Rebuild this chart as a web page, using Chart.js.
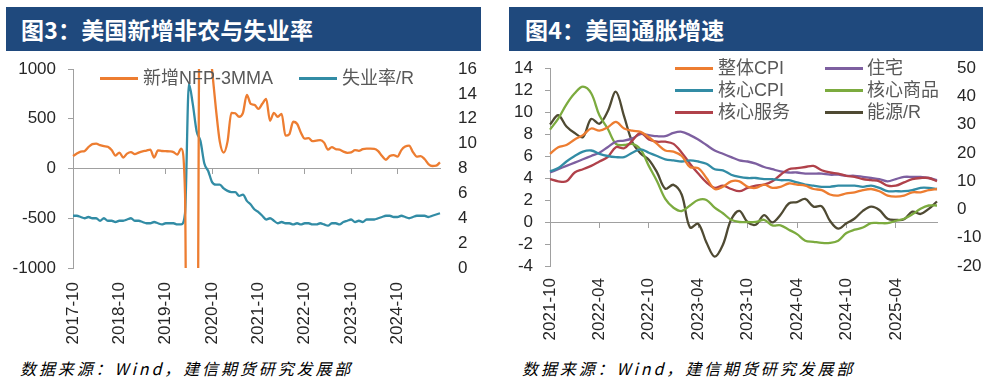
<!DOCTYPE html>
<html>
<head>
<meta charset="utf-8">
<script src="https://cdn.jsdelivr.net/npm/chart.js@4/dist/chart.umd.min.js"></script>
<style>
  html,body{margin:0;padding:0;background:#fff;}
  body{width:991px;height:384px;position:relative;overflow:hidden;font-family:'Liberation Sans','Noto Sans CJK SC',sans-serif;}
  .bar{position:absolute;top:7px;height:44px;background:#1f497d;color:#fff;font-family:'Noto Sans CJK SC',sans-serif;font-weight:bold;font-size:23px;line-height:44px;letter-spacing:0.2px;box-sizing:border-box;}
  .src{position:absolute;top:356px;font-family:'Noto Sans CJK SC',sans-serif;font-style:italic;font-size:16px;letter-spacing:2.9px;color:#000;}
  .cv{position:absolute;}
  .lg{position:absolute;font-family:'Liberation Sans','Noto Sans CJK SC',sans-serif;font-size:18px;color:#595959;line-height:20px;white-space:nowrap;}
  .ln{position:absolute;height:2.5px;}
</style>
</head>
<body>
<div class="bar" style="left:6px;width:475px;padding-left:15px;">图3：美国新增非农与失业率</div>
<div class="bar" style="left:509px;width:474px;padding-left:16px;">图4：美国通胀增速</div>

<div class="cv" style="left:0;top:55px;width:495px;height:300px;"><canvas id="cL" width="495" height="300"></canvas></div>
<div class="cv" style="left:500px;top:55px;width:491px;height:300px;"><canvas id="cR" width="491" height="300"></canvas></div>

<div id="legends"></div>

<div class="src" style="left:20px;">数据来源：Wind，建信期货研究发展部</div>
<div class="src" style="left:522px;">数据来源：Wind，建信期货研究发展部</div>

<script>
// ---------- categories ----------
function monthRange(y, m, n){ const out=[]; for(let k=0;k<n;k++){ out.push(y+'-'+String(m).padStart(2,'0')); m++; if(m>12){m=1;y++;} } return out; }
const monthsL = monthRange(2017,10,96);   // 2017-10 .. 2025-09
const monthsR = monthRange(2021,10,48);   // 2021-10 .. 2025-09
const tickLabelsL = ['2017-10','2018-10','2019-10','2020-10','2021-10','2022-10','2023-10','2024-10'];
const tickLabelsR = ['2021-10','2022-04','2022-10','2023-04','2023-10','2024-04','2024-10','2025-04'];

// ---------- left chart series ----------
const nfp3mma = [125,150,170,175,215,245,250,235,225,218,185,130,
  160,110,150,165,145,160,172,180,190,110,182,176,
  174,172,165,140,200,-250,-7200,-6350,-4360,3050,2630,1340,
  990,600,270,160,270,560,555,520,560,740,650,640,
  600,650,700,480,560,520,550,330,345,470,450,360,
  300,305,275,280,285,260,190,215,195,190,170,158,
  162,185,178,195,200,200,198,175,125,88,125,135,
  120,185,220,230,165,120,125,95,45,25,28,62];
const unemployment = [4.2,4.2,4.1,
  4.0,4.1,4.0,4.0,3.8,4.0,3.8,3.8,3.7,3.8,3.8,3.9,
  4.0,3.8,3.8,3.7,3.6,3.6,3.7,3.6,3.5,3.6,3.6,3.6,
  3.5,3.5,4.4,14.8,13.2,11.0,10.2,8.4,7.8,6.9,6.7,6.7,
  6.4,6.2,6.1,6.1,5.8,5.9,5.4,5.1,4.7,4.5,4.2,3.9,
  4.0,3.8,3.6,3.7,3.6,3.6,3.5,3.6,3.5,3.6,3.6,3.5,
  3.5,3.6,3.5,3.4,3.6,3.6,3.5,3.7,3.8,3.9,3.7,3.8,
  3.7,3.9,3.9,3.9,4.0,4.1,4.2,4.2,4.1,4.1,4.2,4.1,
  4.0,4.1,4.2,4.2,4.2,4.1,4.2,4.3,4.4];

// ---------- right chart series ----------
const cpi = [6.2,6.8,7.0, 7.5,7.9,8.5,8.3,8.6,9.1,8.5,8.3,8.2,7.7,7.1,6.5,
  6.4,6.0,5.0,4.9,4.0,3.0,3.2,3.7,3.7,3.2,3.1,3.4,
  3.1,3.2,3.5,3.4,3.3,3.0,2.9,2.5,2.4,2.6,2.7,2.9,
  3.0,2.8,2.4,2.3,2.4,2.7,2.7,2.9,3.0];
const coreCpi = [4.6,4.9,5.5, 6.0,6.4,6.5,6.2,6.0,5.9,5.9,6.3,6.6,6.3,6.0,5.7,
  5.6,5.5,5.6,5.5,5.3,4.8,4.7,4.3,4.1,4.0,4.0,3.9,
  3.9,3.8,3.8,3.6,3.4,3.3,3.2,3.2,3.3,3.3,3.3,3.2,
  3.3,3.1,2.8,2.8,2.8,2.9,3.1,3.1,3.0];
const coreServices = [3.9,3.7,3.7, 4.5,4.8,5.1,5.5,5.9,6.8,6.7,7.4,8.1,7.5,7.3,7.3,
  7.1,6.3,5.3,4.4,3.6,3.1,3.3,3.0,2.8,3.1,3.3,3.4,
  3.7,4.3,4.8,4.9,5.0,5.1,4.7,4.5,4.4,4.2,4.1,3.9,
  3.8,3.7,3.3,3.3,3.6,3.9,4.0,4.0,3.7];
const housing = [4.5,4.8,5.1, 5.4,5.7,6.0,6.3,6.8,7.3,7.4,7.6,8.0,7.9,7.8,7.8,
  8.1,8.2,7.9,7.5,7.0,6.5,6.2,5.9,5.6,5.5,5.3,5.0,
  4.8,4.6,4.5,4.5,4.4,4.4,4.4,4.3,4.3,4.2,4.2,4.1,
  4.0,3.9,3.7,3.9,4.1,4.1,4.1,4.0,3.8];
const coreGoods = [8.4,9.4,10.7, 11.7,12.3,11.7,9.7,8.5,7.1,7.0,7.1,6.6,5.1,3.7,2.1,
  1.3,1.0,1.5,2.0,2.0,1.3,0.8,0.2,0.0,0.0,0.0,0.2,
  -0.3,-0.3,-0.7,-1.1,-1.7,-1.8,-1.9,-1.9,-1.7,-1.0,-0.7,-0.5,
  -0.1,-0.1,-0.1,0.1,0.3,0.7,1.2,1.5,1.5];
const energy = [30.0,33.3,29.3, 27.0,25.6,32.0,30.3,34.6,41.6,32.9,23.8,19.8,17.6,13.1,7.3,
  8.7,5.2,-6.4,-5.1,-11.7,-16.7,-12.5,-3.6,-0.5,-4.5,-5.4,-2.0,
  -4.6,-1.9,2.1,2.6,3.7,1.0,1.1,-4.0,-6.8,-4.9,-3.2,-0.5,
  1.0,-0.2,-3.3,-3.7,-3.5,-0.8,-1.6,0.2,2.8];

// ---------- styles ----------
const C = {orange:'#ed7d31', teal:'#328ca5', purple:'#7d5fa0', green:'#7cab3f', red:'#b0414a', olive:'#4f4a33'};
const AX = '#a0a0a0';
const TICKFONT = {family:"'Liberation Sans', Arial, sans-serif", size:17};
const TICKCOL = '#262626';
const LW = 2.3;

function ds(label, data, color, yAxisID, mode){
  return {label, data, borderColor:color, backgroundColor:color, borderWidth:LW, pointRadius:0,
          yAxisID, xAxisID:'x', fill:false, tension:0.35, cubicInterpolationMode:mode||'default'};
}
function noPad(s){ s.paddingTop=0; s.paddingBottom=0; s.paddingLeft=0; s.paddingRight=0; }

function buildChart(id, labels, tickLabels, datasets, cfg){
  return new Chart(document.getElementById(id), {
    type:'line',
    data:{labels, datasets},
    options:{
      responsive:false, animation:false, devicePixelRatio:1,
      layout:{padding:{top:cfg.top, left:0, right:0, bottom:0}},
      plugins:{legend:{display:false}, tooltip:{enabled:false}},
      scales:{
        x:{type:'category', position:'bottom', offset:false,
           grid:{display:false, drawTicks:false}, border:{display:false},
           ticks:{autoSkip:false, maxRotation:90, minRotation:90, padding:cfg.xpad, font:TICKFONT, color:TICKCOL,
                  callback:(v,i)=> tickLabels.includes(labels[i]) ? labels[i] : null},
           afterFit:s=>{s.height=cfg.xh; noPad(s);}},
        x2:{type:'category', axis:'x', position:{y:0}, offset:false,
           grid:{display:true, drawOnChartArea:false, drawTicks:true, tickLength:5,
                 color:'transparent',
                 tickColor:ctx=> (ctx.index>0 && tickLabels.includes(labels[ctx.index])) ? AX : 'transparent'},
           border:{display:true, color:AX, width:1},
           ticks:{display:false},
           afterFit:s=>{s.height=0; noPad(s);}},
        y:{position:'left', min:cfg.ymin, max:cfg.ymax,
           ticks:{stepSize:cfg.ystep, autoSkip:false, padding:12, font:TICKFONT, color:TICKCOL, callback:v=>String(v)},
           grid:{display:true, drawOnChartArea:false, drawTicks:true, tickLength:5, color:AX},
           border:{display:true, color:AX, width:1},
           afterFit:s=>{s.width=cfg.yw; noPad(s);}},
        y2:{position:'right', min:cfg.y2min, max:cfg.y2max,
           ticks:{stepSize:cfg.y2step, autoSkip:false, padding:cfg.y2pad, font:TICKFONT, color:TICKCOL, callback:v=>String(v)},
           grid:{display:false, drawTicks:false}, border:{display:false},
           afterFit:s=>{s.width=cfg.y2w; noPad(s);}}
      }
    }
  });
}

buildChart('cL', monthsL, tickLabelsL, [
  ds('新增NFP-3MMA', nfp3mma, C.orange, 'y', 'monotone'),
  ds('失业率/R', unemployment, C.teal, 'y2', 'monotone')
], {top:14, xh:87, xpad:14, yw:73, y2w:55, y2pad:18, ymin:-1000, ymax:1000, ystep:500, y2min:0, y2max:16, y2step:2});

buildChart('cR', monthsR, tickLabelsR, [
  ds('整体CPI', cpi, C.orange, 'y'),
  ds('核心CPI', coreCpi, C.teal, 'y'),
  ds('核心服务', coreServices, C.red, 'y'),
  ds('住宅', housing, C.purple, 'y'),
  ds('核心商品', coreGoods, C.green, 'y'),
  ds('能源/R', energy, C.olive, 'y2')
], {top:13, xh:89, xpad:12, yw:50, y2w:54, y2pad:20, ymin:-4, ymax:14, ystep:2, y2min:-20, y2max:50, y2step:10});

// ---------- HTML legends ----------
const legendItems = [
  {text:'新增NFP-3MMA', color:C.orange, lx:100, tx:143, y:78},
  {text:'失业率/R', color:C.teal, lx:299, tx:342, y:78},
  {text:'整体CPI', color:C.orange, lx:675, tx:718, y:68},
  {text:'核心CPI', color:C.teal, lx:675, tx:718, y:90},
  {text:'核心服务', color:C.red, lx:675, tx:718, y:112},
  {text:'住宅', color:C.purple, lx:825, tx:867, y:68},
  {text:'核心商品', color:C.green, lx:825, tx:867, y:90},
  {text:'能源/R', color:C.olive, lx:825, tx:867, y:112}
];
const lgRoot = document.getElementById('legends');
legendItems.forEach(it=>{
  const l = document.createElement('div'); l.className='ln';
  l.style.left=it.lx+'px'; l.style.top=(it.y-1)+'px'; l.style.width='38px'; l.style.background=it.color;
  lgRoot.appendChild(l);
  const t = document.createElement('div'); t.className='lg';
  t.style.left=it.tx+'px'; t.style.top=(it.y-10)+'px'; t.textContent=it.text;
  lgRoot.appendChild(t);
});
</script>
</body>
</html>
